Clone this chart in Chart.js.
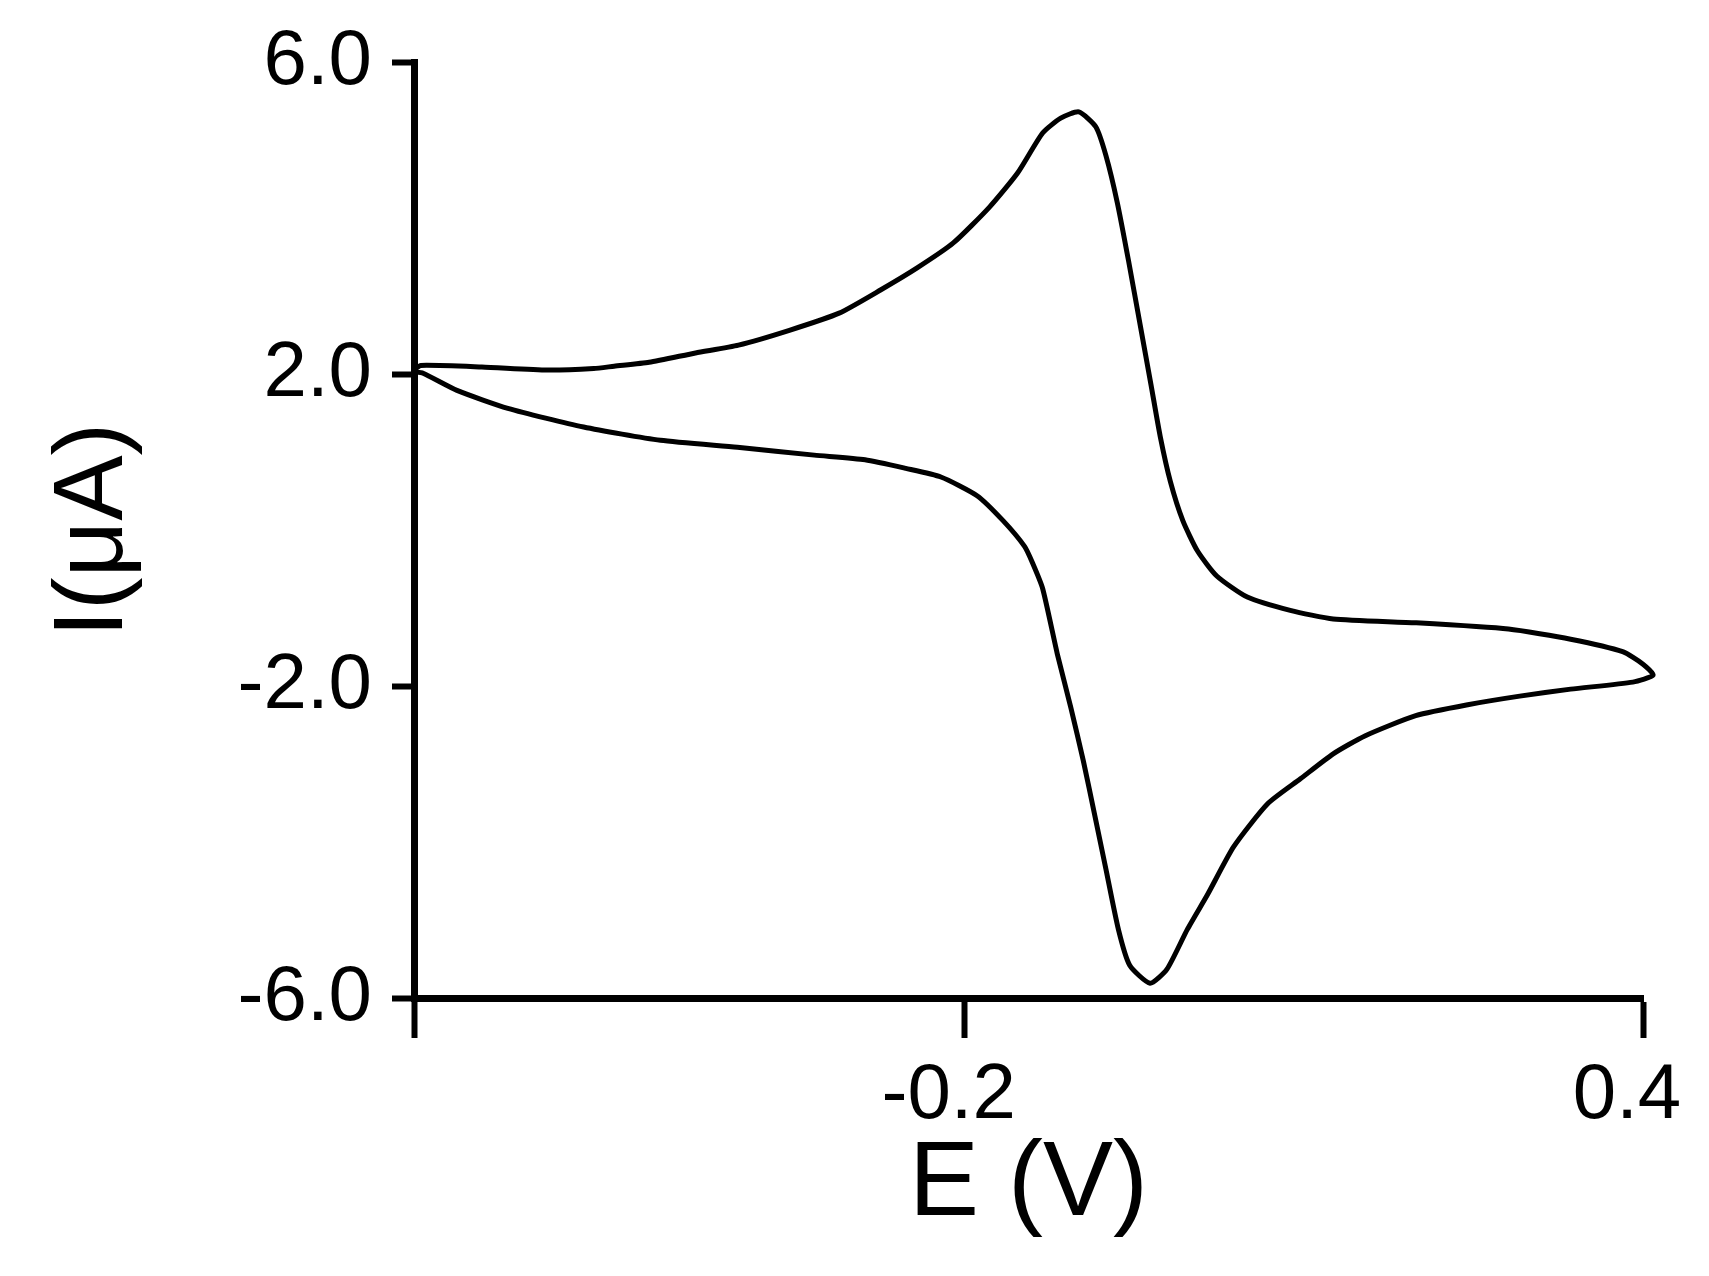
<!DOCTYPE html>
<html>
<head>
<meta charset="utf-8">
<script src="https://cdn.jsdelivr.net/npm/chart.js@4"></script>
<style>
  html, body { margin: 0; padding: 0; background: #fff; }
  #wrap { width: 1709px; height: 1276px; position: relative; }
</style>
</head>
<body>
<div id="wrap"><canvas id="c"></canvas></div>
<script>
// Forward (anodic) sweep, left to right
const forwardE = [-0.687, -0.681, -0.627, -0.569, -0.528, -0.510, -0.479, -0.438, -0.400, -0.355, -0.311, -0.274, -0.242, -0.210, -0.178, -0.153, -0.131, -0.115, -0.099, -0.084, -0.075, -0.065, -0.055, -0.045, -0.035, -0.027, -0.018, -0.007, 0.006, 0.023, 0.050, 0.088, 0.126, 0.199, 0.281, 0.336, 0.382, 0.400, 0.409];
const forwardI = [2.05, 2.11, 2.09, 2.05, 2.07, 2.10, 2.15, 2.27, 2.37, 2.56, 2.78, 3.08, 3.36, 3.68, 4.14, 4.58, 5.09, 5.28, 5.36, 5.17, 4.80, 4.20, 3.45, 2.65, 1.85, 1.20, 0.62, 0.12, -0.27, -0.59, -0.86, -1.03, -1.14, -1.19, -1.27, -1.40, -1.56, -1.72, -1.86];
// Reverse (cathodic) sweep, right to left
const reverseE = [0.391, 0.336, 0.291, 0.245, 0.199, 0.154, 0.126, 0.097, 0.068, 0.038, 0.015, -0.003, -0.021, -0.036, -0.054, -0.064, -0.075, -0.085, -0.095, -0.106, -0.118, -0.131, -0.140, -0.147, -0.166, -0.189, -0.221, -0.252, -0.288, -0.333, -0.401, -0.469, -0.537, -0.604, -0.649, -0.679, -0.687];
const reverseI = [-1.95, -2.04, -2.13, -2.24, -2.38, -2.64, -2.87, -3.19, -3.51, -4.06, -4.67, -5.12, -5.63, -5.81, -5.58, -5.12, -4.35, -3.65, -2.96, -2.28, -1.59, -0.75, -0.42, -0.21, 0.12, 0.44, 0.68, 0.79, 0.90, 0.96, 1.06, 1.15, 1.32, 1.56, 1.79, 2.01, 2.03];

const xTickValues = [-0.687, -0.2, 0.4];
const xTickLabels = ['', '-0.2', '0.4'];
const yTickValues = [-6, -2, 2, 6];
const yTickLabels = ['-6.0', '-2.0', '2.0', '6.0'];
const xTitle = 'E (V)';
const yTitle = 'I(μA)';

const points = [];
forwardE.forEach((e, i) => points.push({x: e, y: forwardI[i]}));
reverseE.forEach((e, i) => points.push({x: e, y: reverseI[i]}));

const FONT = '"Liberation Sans", Arial, sans-serif';

new Chart(document.getElementById('c'), {
  type: 'scatter',
  data: {
    datasets: [{
      data: points,
      showLine: true,
      borderColor: '#000',
      borderWidth: 5,
      pointRadius: 0,
      tension: 0.2,
      fill: false,
      clip: false
    }]
  },
  options: {
    responsive: true,
    maintainAspectRatio: false,
    animation: false,
    layout: { padding: { top: 62, right: 66, bottom: 0, left: 0 } },
    plugins: { legend: { display: false }, tooltip: { enabled: false } },
    scales: {
      x: {
        type: 'linear',
        min: xTickValues[0],
        max: 0.4,
        afterBuildTicks: (s) => { s.ticks = xTickValues.map(v => ({ value: v })); },
        afterFit: (s) => { s.height = 278; s.paddingLeft = 0; s.paddingRight = 0; },
        border: { display: true, color: '#000', width: 7 },
        grid: { drawOnChartArea: false, drawTicks: true, tickLength: 40, tickColor: '#000', tickWidth: 6 },
        ticks: {
          autoSkip: false, maxRotation: 0, color: '#000', padding: 12, labelOffset: -16,
          font: { family: FONT, size: 78 },
          callback: (v, i) => xTickLabels[i]
        },
        title: {
          display: true, text: xTitle, color: '#000',
          font: { family: FONT, size: 105 },
          padding: { top: 0, bottom: 27 }
        }
      },
      y: {
        type: 'linear',
        min: -6,
        max: 6,
        afterBuildTicks: (s) => { s.ticks = yTickValues.map(v => ({ value: v })); },
        afterFit: (s) => { s.width = 414; s.paddingTop = 0; s.paddingBottom = 0; },
        border: { display: true, color: '#000', width: 7 },
        grid: { drawOnChartArea: false, drawTicks: true, tickLength: 22, tickColor: '#000', tickWidth: 6 },
        ticks: {
          autoSkip: false, color: '#000', padding: 20,
          font: { family: FONT, size: 78 },
          callback: (v, i) => yTickLabels[i]
        },
        title: {
          display: true, text: yTitle, color: '#000',
          font: { family: FONT, size: 98 },
          padding: { top: 36, bottom: 0 }
        }
      }
    }
  }
});
</script>
</body>
</html>
